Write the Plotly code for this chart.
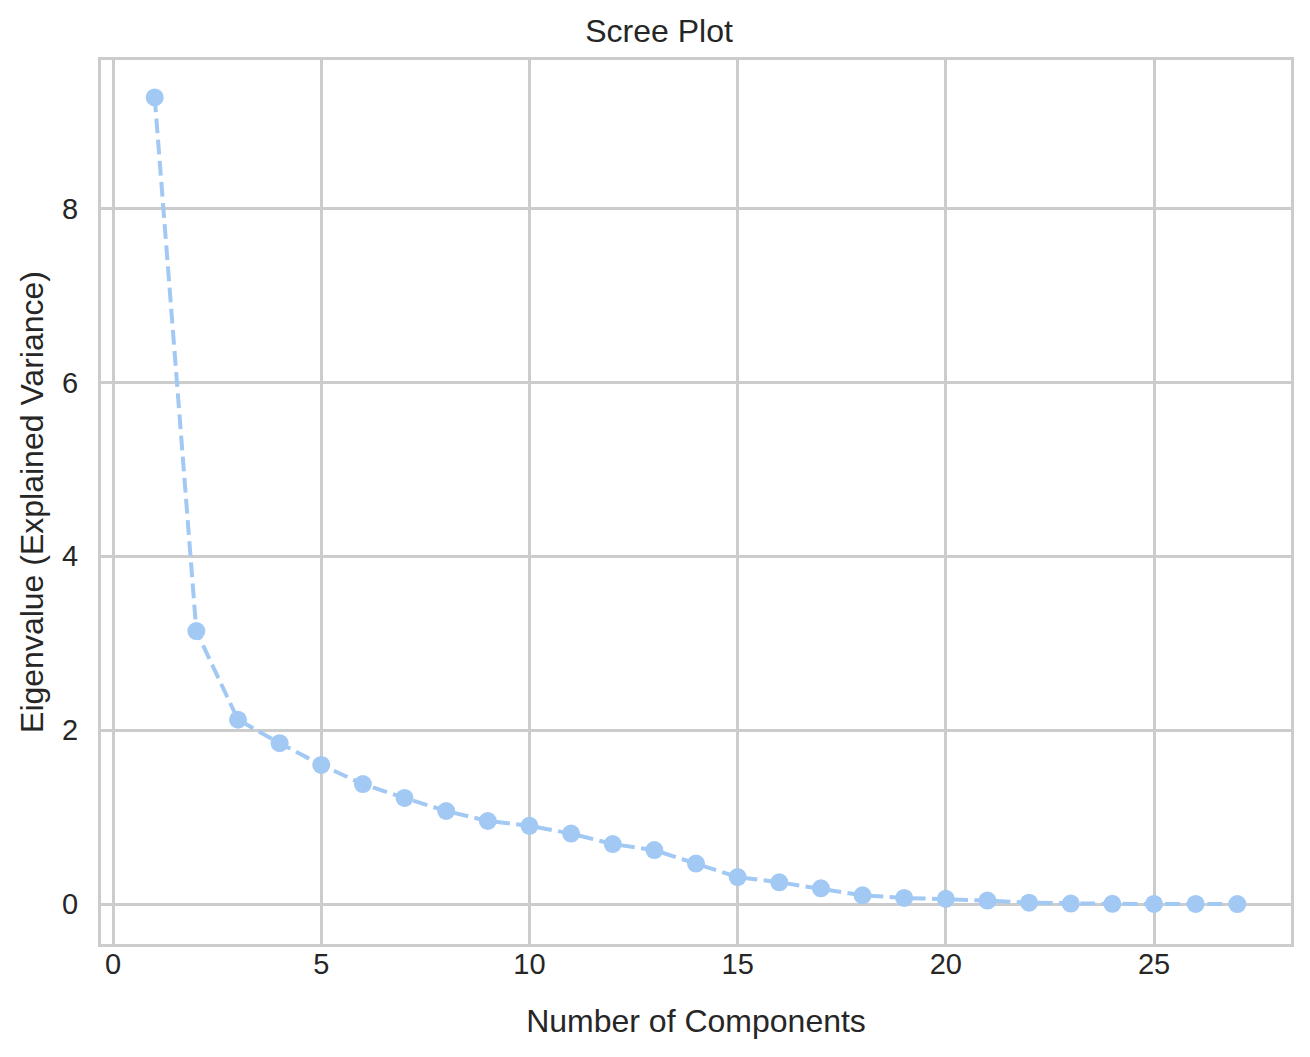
import plotly.graph_objects as go

# eigenvalues
components = list(range(1, 28))
eigenvalues = [
    9.28, 3.14, 2.12, 1.85, 1.60, 1.38, 1.22, 1.07, 0.955, 0.90,
    0.81, 0.69, 0.62, 0.465, 0.31, 0.25, 0.18, 0.10, 0.07, 0.06,
    0.04, 0.015, 0.005, 0.002, 0.001, 0.001, 0.0,
]
x_ticks = [0, 5, 10, 15, 20, 25]
y_ticks = [0, 2, 4, 6, 8]

_COLOR = "#a1c9f4"
_GRID = "#cccccc"
_TEXT = "#262626"
_FONT = "Liberation Sans, Arial, sans-serif"

fig = go.Figure()
fig.add_trace(go.Scatter(
    x=components,
    y=eigenvalues,
    mode="lines+markers",
    line=dict(color=_COLOR, width=4, dash="14.8px,6.4px"),
    marker=dict(color=_COLOR, size=18),
    showlegend=False,
))

axis_common = dict(
    showgrid=True, gridcolor=_GRID, gridwidth=2.7,
    showline=True, linecolor=_GRID, linewidth=3.3, mirror=True,
    zeroline=False, ticks="",
    tickfont=dict(size=29, color=_TEXT, family=_FONT),
)

# page body has an 8px margin, so the figure is made that much smaller
fig.update_layout(
    width=1302,
    height=1049,
    margin=dict(l=93, r=19, t=52, b=113),
    paper_bgcolor="white",
    plot_bgcolor="white",
    font=dict(family=_FONT, color=_TEXT),
    title=dict(
        text="Scree Plot", x=0.5, xanchor="center",
        y=1 - 23 / 1049, yanchor="middle",
        font=dict(size=32, color=_TEXT, family=_FONT),
    ),
    xaxis=dict(
        range=[-0.29, 28.29], tickvals=x_ticks, ticklabelstandoff=-8,
        title=dict(text="Number of Components", font=dict(size=32, color=_TEXT), standoff=31),
        **axis_common,
    ),
    yaxis=dict(
        range=[-0.46, 9.71], tickvals=y_ticks, ticklabelstandoff=14,
        title=dict(text="Eigenvalue (Explained Variance)", font=dict(size=32, color=_TEXT), standoff=9),
        **axis_common,
    ),
)

fig.write_html("out.html")
